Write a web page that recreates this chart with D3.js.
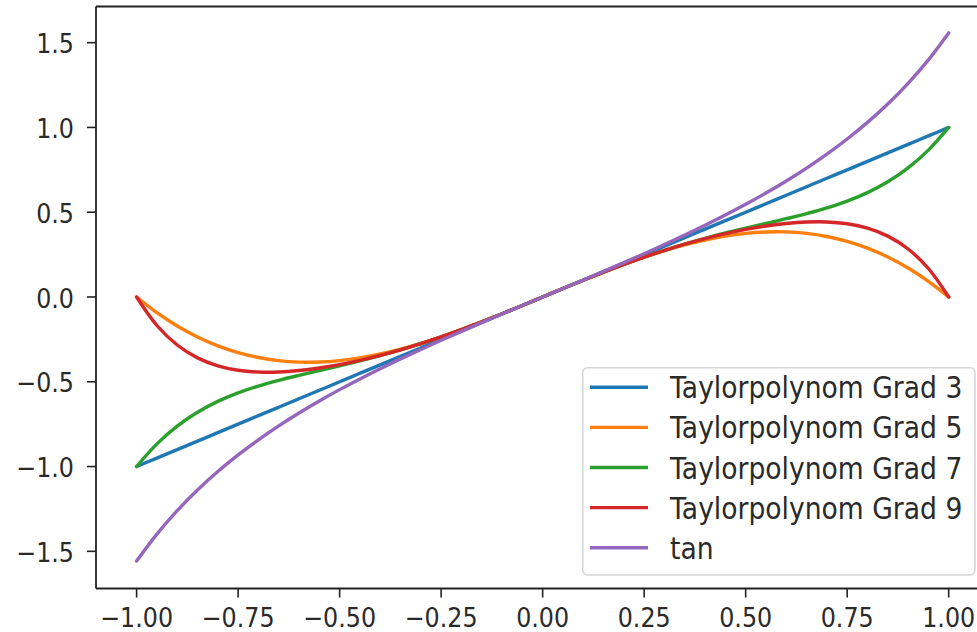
<!DOCTYPE html>
<html>
<head>
<meta charset="utf-8">
<script src="https://cdn.jsdelivr.net/npm/d3@7/dist/d3.min.js"></script>
<style>
  html, body { margin: 0; padding: 0; background: #fff; }
  svg { display: block; }
  text { font-family: "DejaVu Sans", sans-serif; fill: #2a2a2a; }
</style>
</head>
<body>
<svg id="chart" width="977" height="632"></svg>
<script>
// Sample positions along x
const xs = [-1, -0.95, -0.9, -0.85, -0.8, -0.75, -0.7, -0.65, -0.6, -0.55, -0.5, -0.45, -0.4, -0.35, -0.3, -0.25, -0.2, -0.15, -0.1, -0.05,
  0, 0.05, 0.1, 0.15, 0.2, 0.25, 0.3, 0.35, 0.4, 0.45, 0.5, 0.55, 0.6, 0.65, 0.7, 0.75, 0.8, 0.85, 0.9, 0.95, 1];

const grad3 = [-1, -0.95, -0.9, -0.85, -0.8, -0.75, -0.7, -0.65, -0.6, -0.55, -0.5, -0.45, -0.4, -0.35, -0.3, -0.25, -0.2, -0.15, -0.1, -0.05,
  0, 0.05, 0.1, 0.15, 0.2, 0.25, 0.3, 0.35, 0.4, 0.45, 0.5, 0.55, 0.6, 0.65, 0.7, 0.75, 0.8, 0.85, 0.9, 0.95, 1];

const grad5 = [0, -0.0926, -0.171, -0.2359, -0.288, -0.3281, -0.357, -0.3754, -0.384, -0.3836, -0.375, -0.3589, -0.336, -0.3071, -0.273, -0.2344, -0.192, -0.1466, -0.099, -0.0499,
  0, 0.0499, 0.099, 0.1466, 0.192, 0.2344, 0.273, 0.3071, 0.336, 0.3589, 0.375, 0.3836, 0.384, 0.3754, 0.357, 0.3281, 0.288, 0.2359, 0.171, 0.0926, 0];

const grad7 = [-1, -0.8664, -0.7615, -0.6796, -0.6157, -0.5654, -0.5251, -0.4914, -0.4618, -0.4339, -0.4063, -0.3773, -0.3462, -0.3124, -0.2754, -0.2353, -0.1923, -0.1467, -0.099, -0.0499,
  0, 0.0499, 0.099, 0.1467, 0.1923, 0.2353, 0.2754, 0.3124, 0.3462, 0.3773, 0.4063, 0.4339, 0.4618, 0.4914, 0.5251, 0.5654, 0.6157, 0.6796, 0.7615, 0.8664, 1];

const grad9 = [0, -0.1681, -0.2832, -0.359, -0.406, -0.4319, -0.4427, -0.4424, -0.4338, -0.4187, -0.3985, -0.3736, -0.3446, -0.3118, -0.2752, -0.2353, -0.1923, -0.1467, -0.099, -0.0499,
  0, 0.0499, 0.099, 0.1467, 0.1923, 0.2353, 0.2752, 0.3118, 0.3446, 0.3736, 0.3985, 0.4187, 0.4338, 0.4424, 0.4427, 0.4319, 0.406, 0.359, 0.2832, 0.1681, 0];

const tanVals = [-1.5574, -1.3984, -1.2602, -1.1383, -1.0296, -0.9316, -0.8423, -0.7602, -0.6841, -0.6131, -0.5463, -0.4831, -0.4228, -0.365, -0.3093, -0.2553, -0.2027, -0.1511, -0.1003, -0.05,
  0, 0.05, 0.1003, 0.1511, 0.2027, 0.2553, 0.3093, 0.365, 0.4228, 0.4831, 0.5463, 0.6131, 0.6841, 0.7602, 0.8423, 0.9316, 1.0296, 1.1383, 1.2602, 1.3984, 1.5574];

const seriesNames = ["Taylorpolynom Grad 3", "Taylorpolynom Grad 5", "Taylorpolynom Grad 7", "Taylorpolynom Grad 9", "tan"];
const seriesValues = [grad3, grad5, grad7, grad9, tanVals];
const seriesColors = ["#1f77b4", "#ff7f0e", "#2ca02c", "#d62728", "#9467bd"];

const xTicks = [-1, -0.75, -0.5, -0.25, 0, 0.25, 0.5, 0.75, 1];
const yTicks = [-1.5, -1, -0.5, 0, 0.5, 1, 1.5];

const svg = d3.select("#chart");
const plotLeft = 96, plotRight = 989.3, plotTop = 6.5, plotBottom = 588.5;

const x = d3.scaleLinear().domain([-1.1, 1.1]).range([plotLeft, plotRight]);
const y = d3.scaleLinear().domain([-1.7192, 1.7132]).range([plotBottom, plotTop]);

const fmtMinus = s => s.replace("-", "\u2212");
const stretch = 1.1;

svg.append("defs").append("clipPath").attr("id", "plotclip")
  .append("rect").attr("x", plotLeft).attr("y", plotTop)
  .attr("width", plotRight - plotLeft).attr("height", plotBottom - plotTop);

// Curves
const line = d3.line()
  .x(d => x(d[0]))
  .y(d => y(d[1]))
  .curve(d3.curveCatmullRom.alpha(0.5));

const plot = svg.append("g").attr("clip-path", "url(#plotclip)");
seriesValues.forEach((vals, i) => {
  plot.append("path")
    .datum(xs.map((xv, j) => [xv, vals[j]]))
    .attr("fill", "none")
    .attr("stroke", seriesColors[i])
    .attr("stroke-width", 3.4)
    .attr("stroke-linecap", "round")
    .attr("stroke-linejoin", "round")
    .attr("d", line);
});

// Spines
const spine = svg.append("g").attr("stroke", "#222").attr("stroke-width", 1.8).attr("fill", "none");
spine.append("line").attr("x1", plotLeft).attr("x2", plotLeft).attr("y1", plotTop).attr("y2", plotBottom);
spine.append("line").attr("x1", plotLeft).attr("x2", plotRight).attr("y1", plotBottom).attr("y2", plotBottom);
spine.append("line").attr("x1", plotLeft).attr("x2", plotRight).attr("y1", plotTop).attr("y2", plotTop);
spine.append("line").attr("x1", plotRight).attr("x2", plotRight).attr("y1", plotTop).attr("y2", plotBottom);

// X axis ticks
const xg = svg.append("g");
xTicks.forEach(t => {
  const px = x(t);
  xg.append("line").attr("x1", px).attr("x2", px).attr("y1", plotBottom).attr("y2", plotBottom + 9)
    .attr("stroke", "#222").attr("stroke-width", 1.6);
  xg.append("text")
    .attr("transform", `translate(${px},${626.5}) scale(1,${stretch})`)
    .attr("text-anchor", "middle")
    .attr("font-size", 23.8)
    .text(fmtMinus(d3.format(".2f")(t)));
});

// Y axis ticks
const yg = svg.append("g");
yTicks.forEach(t => {
  const py = y(t);
  yg.append("line").attr("x1", plotLeft - 9).attr("x2", plotLeft).attr("y1", py).attr("y2", py)
    .attr("stroke", "#222").attr("stroke-width", 1.6);
  yg.append("text")
    .attr("transform", `translate(${74},${py + 10.6}) scale(1,${stretch})`)
    .attr("text-anchor", "end")
    .attr("font-size", 23.8)
    .text(fmtMinus(d3.format(".1f")(t)));
});

// Legend
const lg = svg.append("g");
lg.append("rect")
  .attr("x", 582.7).attr("y", 367.7).attr("width", 392.3).attr("height", 207.3)
  .attr("rx", 5).attr("ry", 5)
  .attr("fill", "#fff").attr("fill-opacity", 0.8)
  .attr("stroke", "#d6d6d6").attr("stroke-width", 1.6);
seriesNames.forEach((name, i) => {
  const cy = 387.3 + i * 40.1;
  lg.append("line").attr("x1", 590).attr("x2", 648).attr("y1", cy).attr("y2", cy)
    .attr("stroke", seriesColors[i]).attr("stroke-width", 3.4);
  lg.append("text")
    .attr("transform", `translate(670,${cy + 11}) scale(1,${stretch})`)
    .attr("font-size", 26.6)
    .text(name);
});
</script>
</body>
</html>
